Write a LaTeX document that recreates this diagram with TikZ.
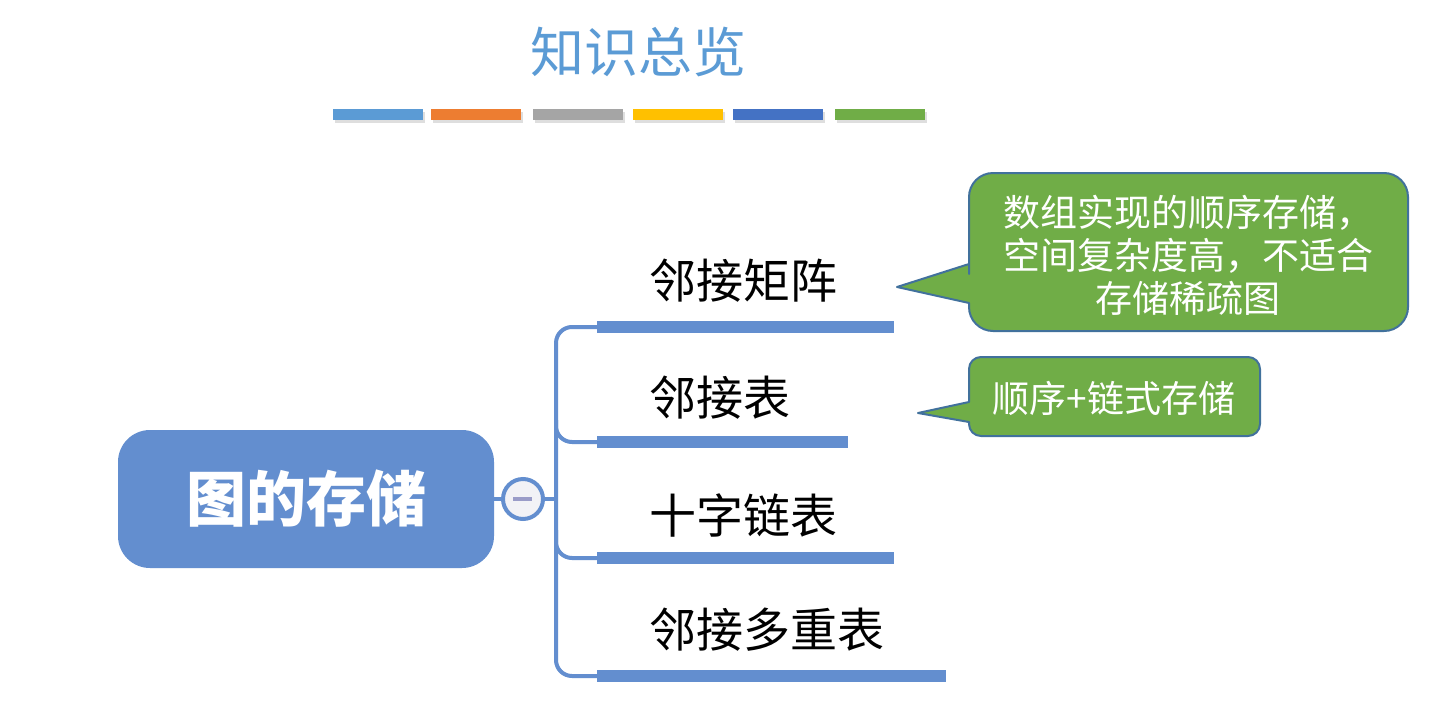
\documentclass[tikz,border=0pt]{standalone}
\usepackage{fontspec}
\setmainfont{Noto Sans CJK SC}
\definecolor{mapblue}{RGB}{99,142,207}
\definecolor{titleblue}{RGB}{91,155,213}
\definecolor{barA}{RGB}{91,155,213}
\definecolor{barB}{RGB}{237,125,49}
\definecolor{barC}{RGB}{165,165,165}
\definecolor{barD}{RGB}{255,192,0}
\definecolor{barE}{RGB}{68,114,196}
\definecolor{barF}{RGB}{112,173,71}
\definecolor{callgreen}{RGB}{112,173,71}
\definecolor{callborder}{RGB}{65,113,156}
\definecolor{minusc}{RGB}{154,156,200}
\definecolor{knobfill}{RGB}{242,242,246}
\begin{document}
\begin{tikzpicture}[x=1pt,y=-1pt,
  conn/.style={draw=mapblue,line width=4pt,rounded corners=16pt},
  uline/.style={draw=mapblue,line width=12pt},
  branchlabel/.style={anchor=west,inner sep=0pt,font=\fontsize{47}{50}\selectfont,text=black},
  callout/.style={fill=callgreen,draw=callborder,line width=2pt,line join=round},
  calltext/.style={text=white,align=center,inner sep=0pt,font=\fontsize{37}{43}\selectfont}]
\useasboundingbox (0,0) rectangle (1455,707);
\fill[white] (0,0) rectangle (1455,707);
% title
\node[text=titleblue,inner sep=0pt,font=\fontsize{54}{60}\selectfont] (title) at (638,52) {知识总览};
% colour bars with shadows
\foreach \xa/\xb/\c in {333/423/barA,431/521/barB,533/623/barC,633/723/barD,733/823/barE,835/925/barF}{
  \fill[black!25,opacity=0.5] (\xa+2,112) rectangle (\xb+2,123);
  \fill[\c] (\xa,109) rectangle (\xb,120);
}
% main node
\node[fill=mapblue,rounded corners=32pt,minimum width=376pt,minimum height=138pt,inner sep=0pt,
  text=white,font=\fontsize{60}{64}\selectfont\bfseries] (root) at (306,499) {图的存储};
% knob
\node[circle,draw=mapblue,fill=knobfill,line width=4pt,minimum size=40pt,inner sep=0pt] (knob) at (523,499) {};
\draw[minusc,line width=4pt] ([xshift=-10pt]knob.center) -- ([xshift=9pt]knob.center);
\coordinate (trunk) at (556,499);
\draw[conn] (root.east) -- (knob.west);
\draw[conn] (knob.east) -- (trunk);
% branch underline starts and ends
\coordinate (u1) at (597,327);
\coordinate (u2) at (597,442);
\coordinate (u3) at (597,558);
\coordinate (u4) at (597,676);
\coordinate (e1) at (894,327);
\coordinate (e2) at (848,442);
\coordinate (e3) at (894,558);
\coordinate (e4) at (946,676);
\draw[conn] (u1) -- (556,327) -- (556,676) -- (u4);
\draw[conn] (556,420) -- (556,442) -- (u2);
\draw[conn] (556,530) -- (556,558) -- (u3);
\draw[uline] (u1) -- (e1);
\draw[uline] (u2) -- (e2);
\draw[uline] (u3) -- (e3);
\draw[uline] (u4) -- (e4);
% branch labels
\node[branchlabel] (b1) at (649,281) {邻接矩阵};
\node[branchlabel] (b2) at (649,398) {邻接表};
\node[branchlabel] (b3) at (649,515) {十字链表};
\node[branchlabel] (b4) at (649,630) {邻接多重表};
% callout 1
\coordinate (tip1) at (897,287);
\draw[callout] (tip1) -- (969,303) -- (969,306) [rounded corners=24pt] -- (969,331) -- (1408,331) -- (1408,173) -- (969,173) -- (969,250) [sharp corners] -- (969,264) -- cycle;
\node[calltext] (c1) at (1188,255) {数组实现的顺序存储，\\空间复杂度高，不适合\\存储稀疏图};
% callout 2
\coordinate (tip2) at (918,413);
\draw[callout] (tip2) -- (969,422) -- (969,424) [rounded corners=12pt] -- (969,436) -- (1260,436) -- (1260,357) -- (969,357) -- (969,390) [sharp corners] -- (969,402) -- cycle;
\node[calltext] (c2) at (1114,398) {顺序+链式存储};
\end{tikzpicture}
\end{document}
